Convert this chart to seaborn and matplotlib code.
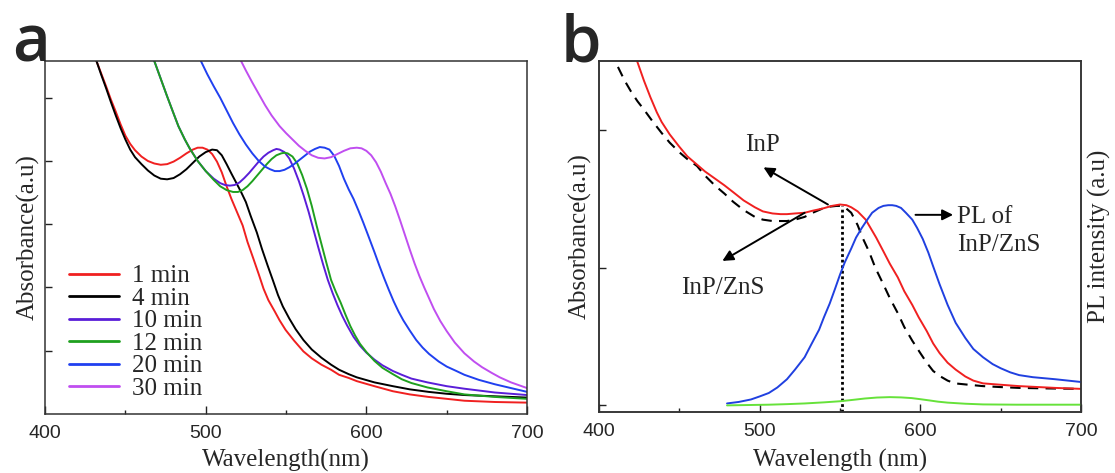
import matplotlib
matplotlib.use("Agg")
import matplotlib.pyplot as plt
import seaborn as sns
import pandas as pd

# ---------------- Data: panel a (absorbance vs growth time) ----------------
wl_1 = [425, 428, 432, 435, 438, 441, 444, 447, 450, 453, 456, 460, 464, 468, 472, 476, 480, 484, 488, 492, 495, 498, 501, 504, 507, 510, 513, 516, 519, 523, 526, 529.6, 533, 536, 539, 543, 546, 549.7, 555, 560.8, 566, 572, 578, 583, 589, 594, 605, 616.5, 627, 638.7, 650, 661, 680, 700]
ab_1 = [6.0, 5.82, 5.58, 5.38, 5.18, 4.97, 4.78, 4.58, 4.40, 4.27, 4.17, 4.07, 4.00, 3.96, 3.94, 3.95, 3.99, 4.05, 4.12, 4.18, 4.21, 4.21, 4.18, 4.11, 3.99, 3.82, 3.60, 3.40, 3.22, 2.98, 2.72, 2.46, 2.21, 1.98, 1.80, 1.62, 1.48, 1.33, 1.16, 0.99, 0.88, 0.78, 0.70, 0.62, 0.57, 0.52, 0.44, 0.36, 0.31, 0.27, 0.24, 0.21, 0.19, 0.18]

wl_4 = [425, 428, 432, 435, 438, 441, 444, 447, 450, 453, 456, 460, 464, 468, 472, 476, 480, 484, 488, 492, 496, 500, 504, 507, 510, 513, 516, 518.5, 522, 525, 528, 531.8, 535, 538.5, 542, 545, 548, 552, 556, 560.8, 566, 572, 578, 583, 589, 594, 605, 616.5, 627, 638.7, 650, 661, 680, 700]
ab_4 = [6.0, 5.82, 5.58, 5.36, 5.15, 4.93, 4.72, 4.52, 4.34, 4.18, 4.06, 3.95, 3.85, 3.77, 3.72, 3.71, 3.73, 3.79, 3.87, 3.97, 4.07, 4.14, 4.18, 4.17, 4.09, 3.95, 3.80, 3.68, 3.51, 3.35, 3.13, 2.87, 2.61, 2.35, 2.10, 1.88, 1.70, 1.51, 1.34, 1.17, 1.02, 0.89, 0.78, 0.70, 0.63, 0.58, 0.50, 0.44, 0.39, 0.35, 0.32, 0.30, 0.28, 0.26]

wl_10 = [462, 465, 468, 472, 476, 480, 483, 487, 490, 495, 500, 505, 509, 512, 515, 518, 521, 524, 527, 530, 533, 536, 539, 542, 544, 546, 549, 552, 555, 558, 561, 564, 567, 570, 573, 576, 579, 582, 585, 588, 592, 596, 600, 605, 610, 616.5, 622, 628, 638, 650, 661, 680, 700]
ab_10 = [6.0, 5.78, 5.58, 5.30, 5.02, 4.75, 4.55, 4.34, 4.20, 4.00, 3.84, 3.72, 3.65, 3.62, 3.61, 3.62, 3.66, 3.73, 3.81, 3.90, 3.99, 4.07, 4.13, 4.17, 4.19, 4.18, 4.14, 4.04, 3.88, 3.68, 3.45, 3.20, 2.92, 2.64, 2.37, 2.12, 1.91, 1.72, 1.55, 1.40, 1.22, 1.08, 0.97, 0.86, 0.77, 0.68, 0.62, 0.56, 0.50, 0.44, 0.40, 0.34, 0.30]

wl_12 = [462, 465, 468, 472, 476, 480, 483, 487, 490, 495, 500, 505, 509, 513, 517, 520, 523, 526, 529, 532, 535, 538, 541, 544, 547, 549, 551, 554, 557, 560, 563, 566, 569, 572, 575, 578, 581, 584, 587, 590, 593, 596, 600, 605, 610, 616.5, 622, 628, 638, 650, 661, 680, 700]
ab_12 = [6.0, 5.78, 5.58, 5.30, 5.02, 4.75, 4.55, 4.34, 4.20, 4.00, 3.84, 3.70, 3.60, 3.54, 3.51, 3.51, 3.54, 3.60, 3.68, 3.77, 3.86, 3.95, 4.03, 4.09, 4.12, 4.13, 4.12, 4.07, 3.96, 3.78, 3.56, 3.29, 2.98, 2.69, 2.40, 2.12, 1.93, 1.76, 1.57, 1.39, 1.24, 1.11, 0.98, 0.84, 0.73, 0.63, 0.55, 0.49, 0.42, 0.36, 0.31, 0.27, 0.24]

wl_20 = [492, 495, 497, 501, 505, 509, 513, 517, 521, 525, 529, 533, 537, 540, 543, 546, 549, 552, 555, 558, 562, 565, 568, 571, 574, 577, 580, 583, 586, 589, 592, 595, 598, 601, 605, 608, 611, 614, 617, 620, 623, 627, 631, 635, 639, 645, 650, 656, 661, 670, 680, 690, 700]
ab_20 = [6.0, 5.73, 5.58, 5.37, 5.18, 5.00, 4.80, 4.60, 4.42, 4.26, 4.12, 4.00, 3.91, 3.87, 3.84, 3.84, 3.86, 3.90, 3.95, 4.01, 4.09, 4.15, 4.19, 4.22, 4.21, 4.18, 4.08, 3.92, 3.72, 3.55, 3.40, 3.22, 3.03, 2.83, 2.56, 2.35, 2.15, 1.96, 1.78, 1.62, 1.48, 1.32, 1.17, 1.05, 0.95, 0.83, 0.75, 0.68, 0.62, 0.54, 0.47, 0.41, 0.35]

wl_30 = [517, 520, 522, 525, 529, 533, 537, 541, 546, 550, 554, 558, 562, 566, 570, 574, 578, 582, 586, 590, 594, 597, 600, 603, 606, 609, 612, 615, 618, 621, 624, 627, 630, 633, 636, 639, 642, 646, 650, 655, 661, 667, 672, 678, 683, 690, 700]
ab_30 = [6.0, 5.72, 5.58, 5.43, 5.24, 5.06, 4.88, 4.72, 4.55, 4.44, 4.34, 4.24, 4.16, 4.09, 4.05, 4.04, 4.06, 4.11, 4.16, 4.20, 4.21, 4.20, 4.16, 4.09, 3.98, 3.83, 3.65, 3.48, 3.28, 3.06, 2.83, 2.60, 2.38, 2.18, 2.00, 1.83, 1.66, 1.47, 1.31, 1.13, 0.96, 0.83, 0.74, 0.65, 0.58, 0.50, 0.41]

times = ["1 min", "4 min", "10 min", "12 min", "20 min", "30 min"]
time_colors = ["#f02020", "#000000", "#5a1ed8", "#1fa01f", "#2040f0", "#c04ef0"]

# ---------------- Data: panel b ----------------
wl_inp = [411.8, 416, 420, 424, 428, 433, 439, 444, 450, 455, 461, 466, 472, 478, 483.5, 490, 497, 502, 508, 513, 517, 522, 528, 533, 539, 544, 548, 551, 554, 557, 561, 564, 568, 572, 577, 581, 586, 590, 595, 600, 604, 608, 612.6, 617, 621.5, 630, 639, 650, 661.5, 680, 700]
ab_inp = [2.46, 2.36, 2.28, 2.21, 2.15, 2.07, 1.98, 1.91, 1.84, 1.79, 1.74, 1.67, 1.60, 1.54, 1.48, 1.42, 1.37, 1.35, 1.34, 1.34, 1.34, 1.35, 1.37, 1.40, 1.43, 1.445, 1.45, 1.45, 1.43, 1.40, 1.31, 1.22, 1.12, 1.00, 0.88, 0.78, 0.67, 0.57, 0.47, 0.38, 0.31, 0.25, 0.21, 0.18, 0.16, 0.15, 0.14, 0.133, 0.127, 0.123, 0.12]

wl_inpzns = [420, 423.8, 428, 432, 436, 439, 444, 450, 455, 461, 466, 472, 478, 483.5, 490, 497, 502, 508, 513, 517, 522, 528, 533, 539, 545, 550, 554, 557, 561, 566, 569, 572.5, 577, 581, 586, 590, 595, 599, 604, 608, 612, 617, 622, 628, 633, 639, 650, 661.5, 684, 700]
ab_inpzns = [2.62, 2.50, 2.36, 2.24, 2.13, 2.06, 1.97, 1.88, 1.81, 1.75, 1.70, 1.65, 1.60, 1.55, 1.49, 1.44, 1.41, 1.395, 1.39, 1.39, 1.395, 1.40, 1.415, 1.43, 1.45, 1.46, 1.455, 1.44, 1.41, 1.35, 1.29, 1.22, 1.12, 1.03, 0.93, 0.83, 0.73, 0.64, 0.54, 0.45, 0.38, 0.31, 0.26, 0.21, 0.18, 0.16, 0.15, 0.14, 0.127, 0.12]

wl_pl = [479.7, 487, 494.6, 500, 505.7, 511, 517, 522, 528, 532, 537, 540, 543.6, 547, 550, 553, 557, 560, 563.6, 567, 570, 574, 577, 580, 582.5, 585, 588, 591, 595, 598, 601.5, 605, 608, 612, 617, 622, 628, 633, 639, 645, 650, 656, 661.5, 670, 684, 700]
pl_zns = [0.014, 0.025, 0.043, 0.065, 0.09, 0.13, 0.19, 0.26, 0.35, 0.44, 0.55, 0.64, 0.74, 0.85, 0.95, 1.04, 1.14, 1.22, 1.29, 1.35, 1.40, 1.435, 1.45, 1.455, 1.455, 1.45, 1.435, 1.40, 1.35, 1.29, 1.21, 1.11, 1.01, 0.88, 0.73, 0.60, 0.49, 0.41, 0.35, 0.30, 0.27, 0.24, 0.22, 0.205, 0.19, 0.17]

wl_pl2 = [479.7, 495, 505.7, 517, 528, 540, 550, 558, 565.5, 573, 581, 588, 594.6, 600, 605.7, 611, 617, 628, 639, 660, 700]
pl_inp = [0.0, 0.003, 0.005, 0.009, 0.014, 0.022, 0.03, 0.04, 0.05, 0.057, 0.06, 0.058, 0.053, 0.045, 0.036, 0.027, 0.02, 0.012, 0.007, 0.005, 0.005]

peak_wl = 551
peak_val = 1.45

xticks = [400, 500, 600, 700]

# ---------------- Style ----------------
sns.set_theme(style="ticks")
plt.rcParams["font.family"] = ["Liberation Serif", "DejaVu Serif"]
plt.rcParams["xtick.direction"] = "in"
plt.rcParams["ytick.direction"] = "in"

fig = plt.figure(figsize=(11.15, 4.73), dpi=100)
ax_a = fig.add_axes([0.0404, 0.1247, 0.4323, 0.7463])
ax_b = fig.add_axes([0.5372, 0.129, 0.4323, 0.742])

# panel a
frames = []
for name, w, a in zip(times, [wl_1, wl_4, wl_10, wl_12, wl_20, wl_30],
                      [ab_1, ab_4, ab_10, ab_12, ab_20, ab_30]):
    frames.append(pd.DataFrame({"Wavelength": w, "Absorbance": a, "Time": name}))
df_a = pd.concat(frames, ignore_index=True)
sns.lineplot(data=df_a, x="Wavelength", y="Absorbance", hue="Time", hue_order=times,
             palette=time_colors, estimator=None, sort=False, linewidth=1.4, ax=ax_a)

ax_a.set_xlim(400, 700)
ax_a.set_ylim(0, 5.58)
ax_a.set_yticks([1, 2, 3, 4, 5])
ax_a.set_yticklabels([])
ax_a.legend(loc="lower left", bbox_to_anchor=(0.024, 0.005), frameon=False,
            fontsize=18, handlelength=2.0, handletextpad=0.5, labelspacing=0.0,
            borderpad=0.0)
for line in ax_a.get_legend().get_lines():
    line.set_linewidth(2.0)

# panel b
df_inp = pd.DataFrame({"Wavelength": wl_inp, "Absorbance": ab_inp})
df_zns = pd.DataFrame({"Wavelength": wl_inpzns, "Absorbance": ab_inpzns})
sns.lineplot(data=df_inp, x="Wavelength", y="Absorbance", color="black",
             linestyle=(0, (5, 3.5)), linewidth=1.5, estimator=None, ax=ax_b)
sns.lineplot(data=df_zns, x="Wavelength", y="Absorbance", color="#f02020",
             linewidth=1.4, estimator=None, ax=ax_b)
ax_b.plot([peak_wl, peak_wl], [-0.05, peak_val], color="black", linestyle=(0, (1, 1)),
          linewidth=2.0)

ax_b.set_xlim(400, 700)
ax_b.set_ylim(-0.048, 2.503)
ax_b.set_yticks([0, 1, 2])
ax_b.set_yticklabels([])

ax2 = ax_b.twinx()
df_pl = pd.DataFrame({"Wavelength": wl_pl, "PL": pl_zns})
df_pl2 = pd.DataFrame({"Wavelength": wl_pl2, "PL": pl_inp})
sns.lineplot(data=df_pl, x="Wavelength", y="PL", color="#2040e0", linewidth=1.4,
             estimator=None, ax=ax2)
sns.lineplot(data=df_pl2, x="Wavelength", y="PL", color="#66e23a", linewidth=1.4,
             estimator=None, ax=ax2)
ax2.set_ylim(-0.048, 2.503)
ax2.set_yticks([])
ax2.set_ylabel("PL intensity (a.u)", fontsize=18, labelpad=5)

arrow = dict(arrowstyle="-|>", color="black", lw=1.4, mutation_scale=16,
             shrinkA=0, shrinkB=0)
ax_b.annotate("", xy=(502.4, 1.73), xytext=(542.5, 1.46), arrowprops=arrow)
ax_b.annotate("", xy=(476.8, 1.05), xytext=(528, 1.40), arrowprops=arrow)
ax_b.annotate("", xy=(620.4, 1.385), xytext=(597, 1.385), arrowprops=arrow)
ax_b.text(502, 1.89, "InP", fontsize=18, ha="center", va="center")
ax_b.text(476.8, 0.85, "InP/ZnS", fontsize=18, ha="center", va="center")
ax_b.text(622.6, 1.27, "PL of\nInP/ZnS", fontsize=18, ha="left", va="center",
          linespacing=1.35)

for ax, xl, ylp, xlp in ((ax_a, "Wavelength(nm)", 0.5, 5), (ax_b, "Wavelength (nm)", 2, 6)):
    ax.set_xticks(xticks)
    ax.set_xticks([450, 550, 650], minor=True)
    ax.set_xticklabels([str(t) for t in xticks], family=["Liberation Sans", "DejaVu Sans"],
                       fontsize=14)
    ax.tick_params(axis="x", which="major", length=6, width=1.0, pad=8, color="#222222")
    ax.tick_params(axis="x", which="minor", length=3, width=1.0, color="#222222")
    ax.tick_params(axis="y", which="major", length=5, width=1.0, color="#222222")
    ax.set_xlabel(xl, fontsize=18, labelpad=xlp)
    ax.set_ylabel("Absorbance(a.u)", fontsize=18, labelpad=ylp)
    for sp in ax.spines.values():
        sp.set_visible(True)
        sp.set_linewidth(1.1)
        sp.set_color("#333333")
for sp in ax2.spines.values():
    sp.set_linewidth(1.1)
    sp.set_color("#333333")

fig.text(12 / 1115, (473 - 62) / 473, "a", fontsize=47, va="baseline", ha="left",
         family=["Open Sans", "DejaVu Sans"], weight="semibold")
fig.text(561 / 1115, (473 - 62) / 473, "b", fontsize=47, va="baseline", ha="left",
         family=["Open Sans", "DejaVu Sans"], weight="semibold")

fig.savefig("out.png", dpi=100)
